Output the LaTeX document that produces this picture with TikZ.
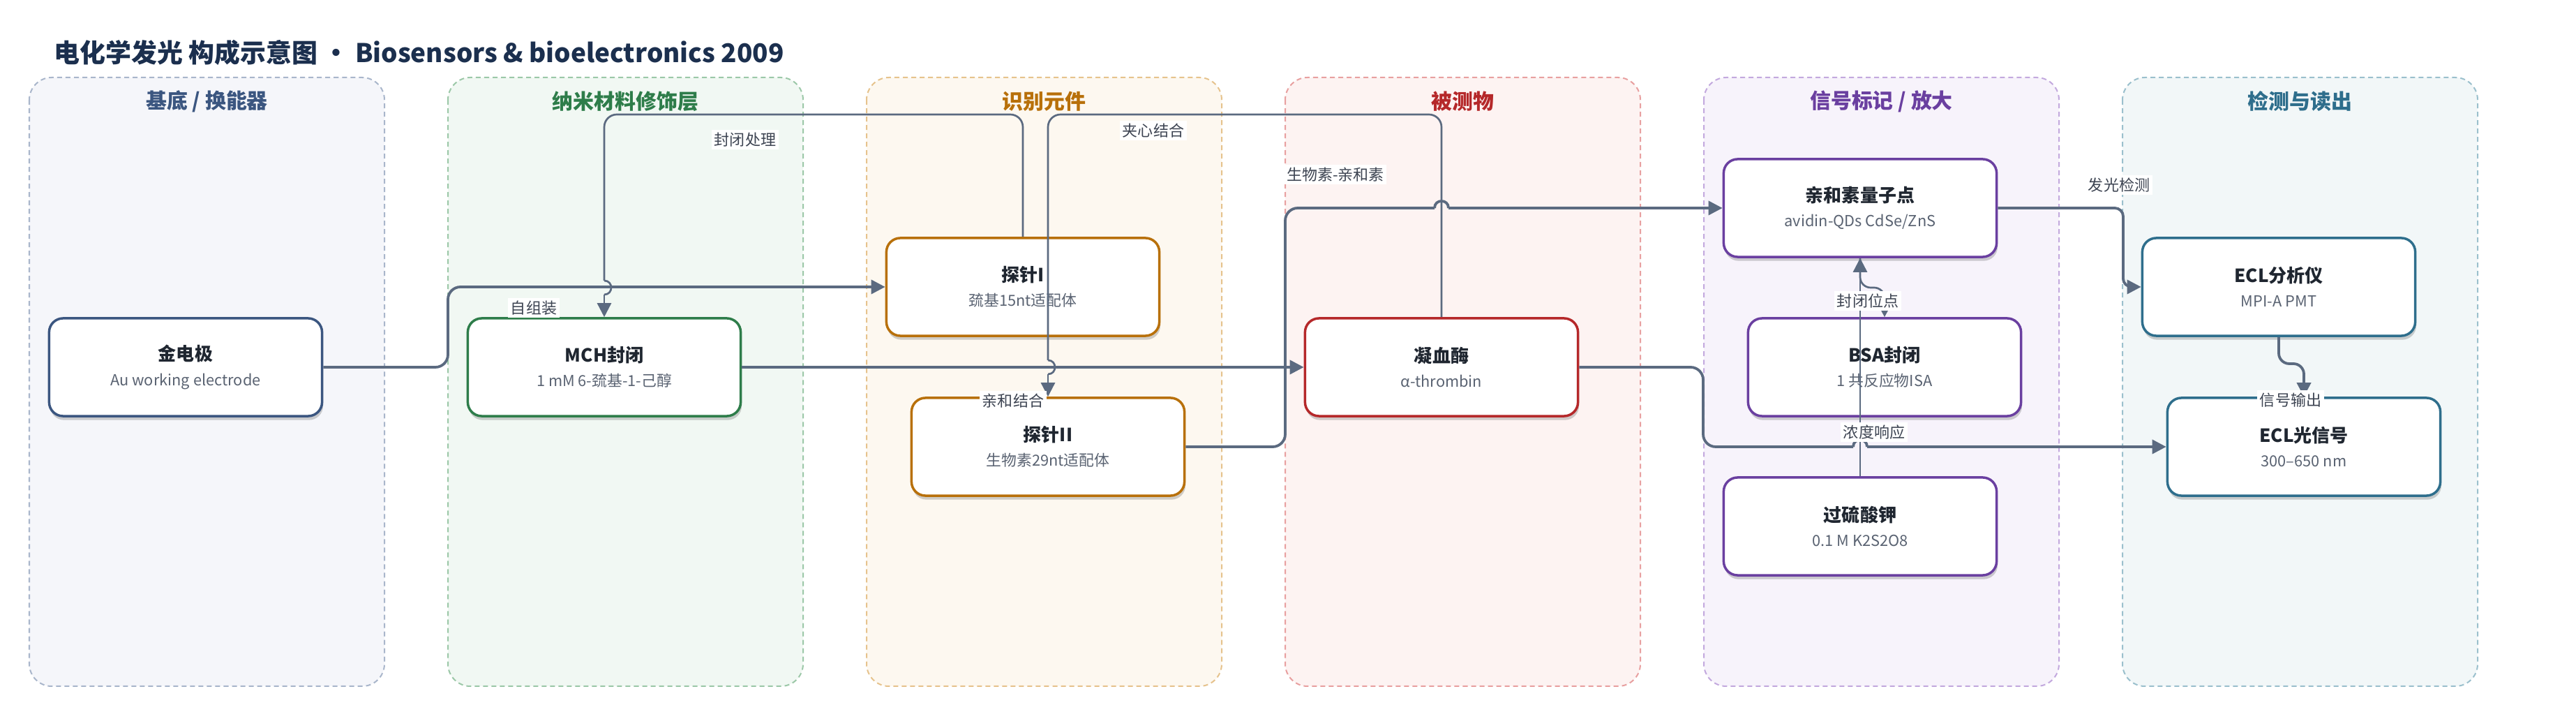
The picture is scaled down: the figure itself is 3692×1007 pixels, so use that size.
\documentclass[tikz,border=0pt]{standalone}
\usepackage{fontspec}
\setmainfont{Noto Sans CJK SC}
\usetikzlibrary{arrows.meta,shadows,calc}
\definecolor{ttl}{HTML}{1B2F4E}
\definecolor{txt}{HTML}{1F2630}
\definecolor{sub}{HTML}{5A6372}
\definecolor{lbc}{HTML}{3D4452}
\definecolor{ec}{HTML}{5B6A80}
\definecolor{lAf}{HTML}{F5F6FA}\definecolor{lAd}{HTML}{A9B6CB}\definecolor{lAt}{HTML}{3B5680}
\definecolor{lBf}{HTML}{F1F8F3}\definecolor{lBd}{HTML}{9CC8A8}\definecolor{lBt}{HTML}{2E7D4A}
\definecolor{lCf}{HTML}{FDF8F0}\definecolor{lCd}{HTML}{E6C38D}\definecolor{lCt}{HTML}{B8700A}
\definecolor{lDf}{HTML}{FDF3F2}\definecolor{lDd}{HTML}{E8A0A0}\definecolor{lDt}{HTML}{B5282A}
\definecolor{lEf}{HTML}{F7F3FB}\definecolor{lEd}{HTML}{C3A9DE}\definecolor{lEt}{HTML}{6A3FA0}
\definecolor{lFf}{HTML}{F2F7F8}\definecolor{lFd}{HTML}{9BC0CD}\definecolor{lFt}{HTML}{2E6E8C}
\newcommand\nodeT[1]{{\fontsize{7.4pt}{10pt}\selectfont\bfseries\color{txt}#1}}
\newcommand\nodeS[1]{{\color{sub}#1}}
\begin{document}
\begin{tikzpicture}[x=0.01cm,y=-0.01cm,
  lane/.style={line width=0.02cm, dash pattern=on 0.07cm off 0.05cm, rounded corners=0.32cm},
  lanetitle/.style={font=\fontsize{8.5pt}{10pt}\selectfont\bfseries},
  nbox/.style={draw, line width=0.035cm, fill=white, rounded corners=0.2cm,
    minimum width=3.91cm, minimum height=1.40cm, align=center, inner sep=0pt,
    font=\fontsize{6.2pt}{10pt}\selectfont,
    drop shadow={shadow xshift=0.4pt, shadow yshift=-1.6pt, opacity=0.18, fill=black}},
  edge/.style={draw=ec, line width=0.038cm},
  thinedge/.style={draw=ec, line width=0.027cm},
  arr/.style={-{Triangle[length=0.2cm,width=0.2cm]}},
  sarr/.style={-{Triangle[length=0.12cm,width=0.12cm]}},
  lbl/.style={fill=white, inner sep=1pt, text=lbc, font=\fontsize{6.26pt}{8pt}\selectfont}]
\useasboundingbox (0,0) rectangle (3692,1007);
\fill[white] (0,0) rectangle (3692,1007);

% title
\node[anchor=west, text=ttl, font=\fontsize{10.5pt}{12pt}\selectfont\bfseries, inner sep=0pt] (title) at (77,75) {电化学发光 构成示意图 · Biosensors \& bioelectronics 2009};

% lanes
\draw[lane, fill=lAf, draw=lAd] (42,111) rectangle (551,983);
\draw[lane, fill=lBf, draw=lBd] (642,111) rectangle (1151,983);
\draw[lane, fill=lCf, draw=lCd] (1242,111) rectangle (1751,983);
\draw[lane, fill=lDf, draw=lDd] (1842,111) rectangle (2351,983);
\draw[lane, fill=lEf, draw=lEd] (2442,111) rectangle (2951,983);
\draw[lane, fill=lFf, draw=lFd] (3042,111) rectangle (3551,983);
\node[lanetitle, text=lAt] (t1) at (296.5,145) {基底 / 换能器};
\node[lanetitle, text=lBt] (t2) at (896.5,145) {纳米材料修饰层};
\node[lanetitle, text=lCt] (t3) at (1496.5,145) {识别元件};
\node[lanetitle, text=lDt] (t4) at (2096.5,145) {被测物};
\node[lanetitle, text=lEt] (t5) at (2696.5,145) {信号标记 / 放大};
\node[lanetitle, text=lFt] (t6) at (3296.5,145) {检测与读出};

% nodes
\node[nbox, draw=lAt] (n1) at (266,526) {\nodeT{金电极}\\\nodeS{Au working electrode}};
\node[nbox, draw=lBt] (n2) at (866,526) {\nodeT{MCH封闭}\\\nodeS{1 mM 6-巯基-1-己醇}};
\node[nbox, draw=lCt] (n3) at (1466,411) {\nodeT{探针I}\\\nodeS{巯基15nt适配体}};
\node[nbox, draw=lCt] (n4) at (1502,640) {\nodeT{探针II}\\\nodeS{生物素29nt适配体}};
\node[nbox, draw=lDt] (n5) at (2066,526) {\nodeT{凝血酶}\\\nodeS{α-thrombin}};
\node[nbox, draw=lEt] (n6) at (2666,298) {\nodeT{亲和素量子点}\\\nodeS{avidin-QDs CdSe/ZnS}};
\node[nbox, draw=lEt] (n7) at (2701,526) {\nodeT{BSA封闭}\\\nodeS{1 共反应物ISA}};
\node[nbox, draw=lEt] (n9) at (2666,754) {\nodeT{过硫酸钾}\\\nodeS{0.1 M K2S2O8}};
\node[nbox, draw=lFt] (n10) at (3266,411) {\nodeT{ECL分析仪}\\\nodeS{MPI-A PMT}};
\node[nbox, draw=lFt] (n11) at (3302,640) {\nodeT{ECL光信号}\\\nodeS{300–650 nm}};

% edges
% 1 金电极 -> 探针I
\draw[edge, arr, rounded corners=0.18cm] (n1.east) -- (642,526) |- (n3.west);
% 2 探针I -> MCH封闭
\draw[thinedge, rounded corners=0.18cm] (n3.north) |- (866,164) -- (866,402);
\draw[thinedge] (866,402) .. controls (879.3,402) and (879.3,422) .. (866,422);
\draw[thinedge, arr] (866,422) -- (n2.north);
% 3 MCH封闭 -> 凝血酶
\draw[edge, arr] (n2.east) -- (n5.west);
% 4 凝血酶 -> 探针II
\draw[thinedge, rounded corners=0.18cm] (n5.north) |- (1502,164) -- (1502,516);
\draw[thinedge] (1502,516) .. controls (1515.3,516) and (1515.3,536) .. (1502,536);
\draw[thinedge, arr] (1502,536) -- (n4.north);
% 5 探针II -> 亲和素量子点
\draw[edge, rounded corners=0.18cm] (n4.east) -- (1842,640) |- (2056,298);
\draw[edge] (2056,298) .. controls (2056,284.7) and (2076,284.7) .. (2076,298);
\draw[edge, arr] (2076,298) -- (n6.west);
% 6 亲和素量子点 -> BSA封闭
\draw[thinedge, sarr, rounded corners=0.15cm] (n6.south) -- (2666,412) -- (2701,412) -- (n7.north);
% 7 过硫酸钾 -> 亲和素量子点
\draw[thinedge, arr] (n9.north) -- (n6.south);
% 8 凝血酶 -> ECL光信号
\draw[edge, rounded corners=0.18cm] (n5.east) -- (2441,526) |- (2656,640);
\draw[edge] (2656,640) .. controls (2656,626.7) and (2676,626.7) .. (2676,640);
\draw[edge, arr] (2676,640) -- (n11.west);
% 9 亲和素量子点 -> ECL分析仪
\draw[edge, arr, rounded corners=0.12cm] (n6.east) -- (3043,298) |- (n10.west);
% 10 ECL分析仪 -> ECL光信号
\draw[edge, arr, rounded corners=0.15cm] (n10.south) -- (3266,521) -- (3302,521) -- (n11.north);

% edge labels
\node[lbl] (e1) at (765,441) {自组装};
\node[lbl] (e2) at (1068,200) {封闭处理};
\node[lbl] (e3) at (1452,574) {亲和结合};
\node[lbl] (e4) at (1653,187) {夹心结合};
\node[lbl] (e5) at (1914,250) {生物素-亲和素};
\node[lbl] (e6) at (2677,431) {封闭位点};
\node[lbl] (e8) at (2686,619) {浓度响应};
\node[lbl] (e9) at (3037,265) {发光检测};
\node[lbl] (e10) at (3283,573) {信号输出};
\end{tikzpicture}
\end{document}
